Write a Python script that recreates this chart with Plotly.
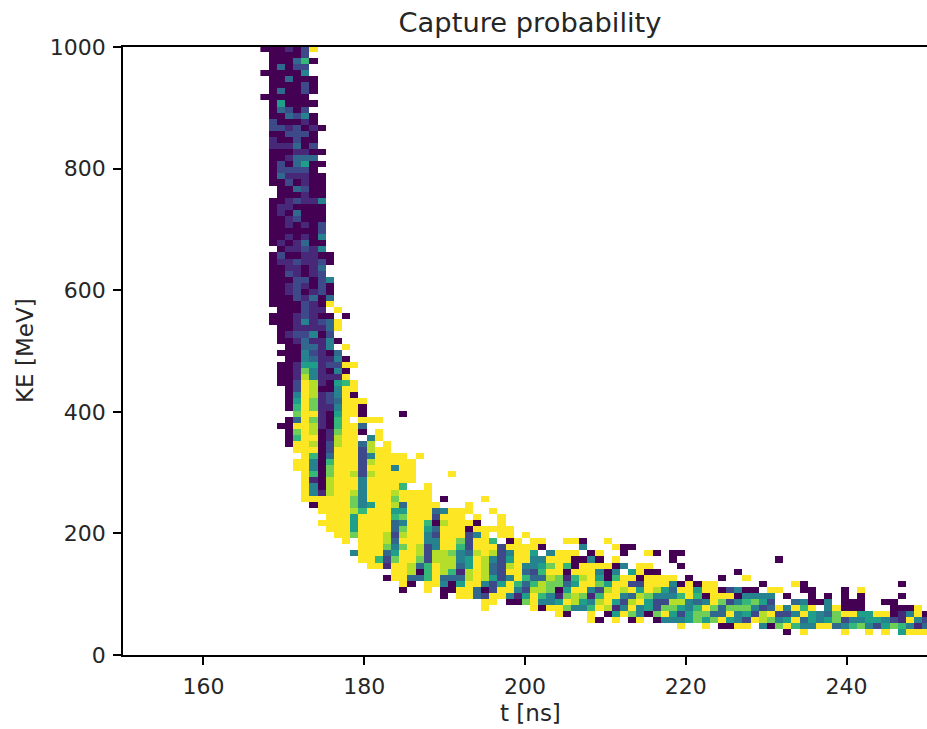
import plotly.graph_objects as go

# Heat-map cells: KE bin -> (first time bin, codes).
# Digit = probability in ninths of the scale (0 dark .. 9 full), "." = empty bin.
CELLS_UPPER = {
    99: (0, "0001029"),
    98: (1, "00002"),
    97: (1, "000360"),
    96: (1, "03022"),
    95: (0, "000004"),
    94: (1, "003000"),
    93: (1, "000020"),
    92: (1, "030020"),
    91: (0, "000000"),
    90: (1, "050000"),
    89: (1, "03202"),
    88: (1, "003240"),
    87: (1, "200010"),
    86: (1, "2212010"),
    85: (1, "002220"),
    84: (1, "100200"),
    83: (1, "111302"),
    82: (1, "0001100"),
    81: (1, "001333"),
    80: (1, "0203500"),
    79: (1, "022220"),
    78: (1, "0311100"),
    77: (1, "0020100"),
    76: (2, "003200"),
    75: (2, "000100"),
    74: (1, "0012114"),
    73: (1, "0110000"),
    72: (1, "0103000"),
    71: (1, "0012000"),
    70: (1, "0010102"),
    69: (1, "0000002"),
    68: (1, "0010104"),
    67: (1, "0101300"),
    66: (2, "011214"),
    65: (1, "02001100"),
    64: (1, "01121120"),
    63: (1, "0011013"),
    62: (1, "0021012"),
    61: (1, "00022024"),
    60: (1, "00121020"),
    59: (1, "00120120"),
    58: (1, "00021303"),
    57: (1, "00002109"),
    56: (2, "000211.9"),
    55: (1, "00012100.0"),
    54: (1, "000141239"),
    53: (2, "00111139"),
    52: (2, "0122402"),
    51: (2, "00131140"),
    50: (3, "003314.9"),
}
CELLS_KNEE = {
    49: (2, "00042103"),
    48: (3, "00431140"),
    47: (2, "0015512299"),
    46: (2, "001741040"),
    45: (2, "001841119"),
    44: (2, "0029810569"),
    43: (3, "029800499"),
    42: (3, "049812490"),
    41: (3, "0597123999"),
    40: (3, "0697114990"),
    39: (4, "799105990....0"),
    38: (3, "03971069.999"),
    37: (2, "00998106993"),
    36: (3, "0798017990.9"),
    35: (3, "069901899.49"),
    34: (3, "09980289938.9"),
    33: (4, "999029992899"),
    32: (5, "9603999249999.9"),
    31: (4, "994069992899999"),
    30: (4, "994079992999499"),
    29: (5, "96079982899999....9"),
    28: (5, "91089994999999"),
    27: (5, "9408999499996..9"),
    26: (5, "9418998499989999"),
    25: (5, "9999997499979999.0....9"),
    24: (6, "0999974599839999...9"),
    23: (7, "9999869995599934999..9"),
    22: (8, "99959999679992999.9..9"),
    21: (7, "99995999934996089990..9"),
    20: (8, "99959999379953999099999"),
}
CELLS_TAIL = {
    19: (9, "9979998289942999249.99.9"),
    18: (10, "9.99983999449972996.09.99..990..9"),
    17: (12, "9997479824" "9962999299" "990....4.." ".900"),
    16: (11, "4999359982" "8874389824" "995.4999.0" "9..0..90.0" "0"),
    15: (12, "9962799728" "8845984259" "9449990040" ".9......0." "...........0"),
    14: (13, "9919983698" "8359832894" "4579609999" "04.99...0"),
    13: (16, "9980698618" "9832993269" "90999404.5" "900.........0"),
    12: (15, "0993369333" "8985249633" "8716895069" "909999.0.." ".0..9"),
    11: (17, "90.9940599" "4259636877" "3599759922" "999409099." "....0...90" "...........0"),
    10: (17, "0..9.00993" "0299428870" "5994289895" "9853995990" "2400.99..0" "0...0.9"),
    9: (22, "0.99329941" "5964178716" "9943874446" "9609990444" "4.0..0.0.0" ".0....0"),
    8: (27, "99.0079445" "9854895289" "5228843497" "246752..34" "004.000..0" "0"),
    7: (27, "9.....9099" "7446981494" "5277546973" "7774239496" "9.49000..." "0009"),
    6: (36, "90..9.0597" "4079525773" "3945289224" "9543799559" "901490"),
    5: (40, "90.9.09.04" "4457579542" "9874593545" "7244554219" "42"),
    4: (51, "9..9.0099." "4079644993" "4674257641" "3"),
    3: (64, "0.9....9.." "9.9.5999"),
}

CODE_SCALE = 9

# Histogram bins of the picture: time step and KE step, first edges.
T_FIRST_EDGE = 167.09
T_STEP = 1.0162
KE_FIRST_EDGE = 2.1
KE_STEP = 10.0
N_T_BINS = 82
N_KE_BINS = 100

TITLE = "Capture probability"
X_LABEL = "t [ns]"
Y_LABEL = "KE [MeV]"
X_TICKS = [160, 180, 200, 220, 240]
Y_TICKS = [0, 200, 400, 600, 800, 1000]

t_edges = [T_FIRST_EDGE + i * T_STEP for i in range(N_T_BINS + 1)]
ke_edges = [KE_FIRST_EDGE + j * KE_STEP for j in range(N_KE_BINS + 1)]

z = [[None] * N_T_BINS for _ in range(N_KE_BINS)]
for cells in (CELLS_UPPER, CELLS_KNEE, CELLS_TAIL):
    for j, (start, codes) in cells.items():
        for i, ch in enumerate(codes):
            if ch != "." and start + i < N_T_BINS:
                z[j][start + i] = int(ch) / CODE_SCALE

font = "DejaVu Sans"
ink = "#262626"
fig = go.Figure(
    go.Heatmap(
        x=t_edges,
        y=ke_edges,
        z=z,
        zmin=0,
        zmax=1,
        colorscale="Viridis",
        showscale=False,
        hoverongaps=False,
    )
)
fig.update_layout(
    width=927,
    height=729,
    margin=dict(l=123, r=0, t=47, b=74),
    paper_bgcolor="white",
    plot_bgcolor="white",
    font=dict(family=font, size=22, color=ink),
    title=dict(
        text=TITLE,
        x=530 / 927,
        xanchor="center",
        y=1 - 22 / 729,
        yanchor="middle",
        font=dict(size=27.3, family=font, color=ink),
    ),
    annotations=[
        dict(
            text=X_LABEL,
            xref="paper",
            yref="paper",
            x=(530.5 - 123) / 804,
            y=-(713 - 655) / 608,
            xanchor="center",
            yanchor="middle",
            showarrow=False,
            font=dict(size=23, family=font, color=ink),
        ),
        dict(
            text=Y_LABEL,
            xref="paper",
            yref="paper",
            x=(25 - 123) / 804,
            y=0.5,
            xanchor="center",
            yanchor="middle",
            textangle=-90,
            showarrow=False,
            font=dict(size=23, family=font, color=ink),
        ),
    ],
)
axis_common = dict(
    showgrid=False,
    zeroline=False,
    showline=True,
    linecolor="black",
    linewidth=1.5,
    ticks="outside",
    ticklen=8,
    tickcolor="black",
    tickwidth=1.5,
    ticklabelstandoff=3,
)
fig.update_xaxes(range=[150, 250], tickvals=X_TICKS, mirror=True, **axis_common)
fig.update_yaxes(range=[0, 1000], tickvals=Y_TICKS, **axis_common)
fig.write_html(
    "out.html",
    config={"displayModeBar": False},
    post_script="document.body.style.margin='0';document.body.style.overflow='hidden';",
)
